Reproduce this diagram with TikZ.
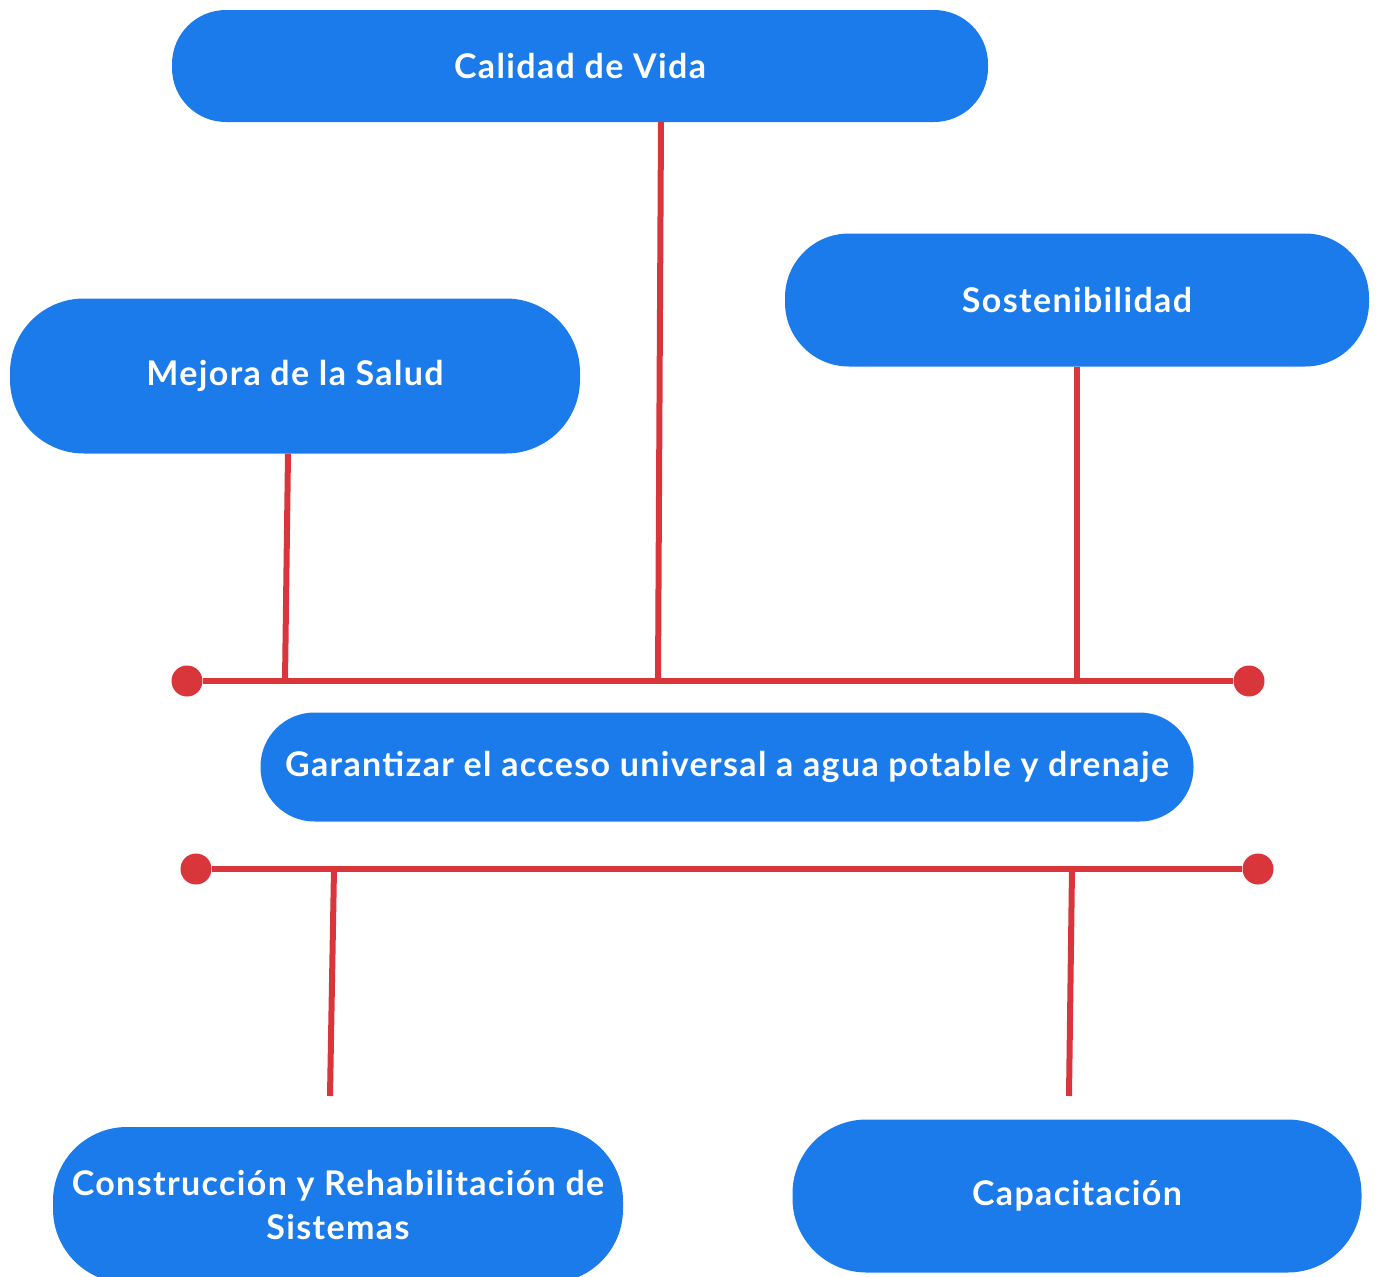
\documentclass[tikz,border=0pt]{standalone}
\usepackage{fontspec}
\setmainfont{Lato}[LetterSpace=4]
\definecolor{azul}{HTML}{1B7BEA}
\definecolor{rojo}{HTML}{D9363B}
\tikzset{
  caja/.style={rectangle, rounded corners=#1, fill=azul, text=white,
    font=\bfseries\fontsize{34}{44}\selectfont, align=center, inner sep=0pt},
  caja/.default=54pt,
  punto/.style={circle, fill=rojo, minimum size=31pt, inner sep=0pt},
  linea/.style={draw=rojo, line width=6pt}
}
\begin{document}
\begin{tikzpicture}[x=1pt, y=-1pt]
\clip (0,0) rectangle (1377,1277);
\useasboundingbox (0,0) rectangle (1377,1277);
\node[caja, minimum width=816pt, minimum height=112pt] (cal) at (580,66) {Calidad de Vida};
\node[caja=64pt, minimum width=584pt, minimum height=133pt] (sos) at (1077,300) {Sostenibilidad};
\node[caja=74pt, minimum width=570pt, minimum height=155pt] (mej) at (295,376) {Mejora de la Salud};
\node[caja, minimum width=933pt, minimum height=109pt] (gar) at (727,767) {Garantizar el acceso universal a agua potable y drenaje};
\node[caja=74pt, minimum width=570pt, minimum height=156pt] (con) at (338,1205) {Construcción y Rehabilitación de\\Sistemas};
\node[caja=74pt, minimum width=569pt, minimum height=153pt] (cap) at (1077,1196) {Capacitación};
% barra superior
\node[punto] (d1) at (187,681){};
\node[punto] (d2) at (1249,681){};
\draw[linea](d1) -- (d2);
\coordinate (j1) at (285,681);
\coordinate (j2) at (658,681);
\coordinate (j3) at (1077,681);
\draw[linea](mej.south -| 288,0) -- (j1);
\draw[linea](cal.south -| 661,0) -- (j2);
\draw[linea](sos.south) -- (j3);
% barra inferior
\node[punto] (d3) at (196,869){};
\node[punto] (d4) at (1258,869){};
\draw[linea](d3) -- (d4);
\coordinate (k1) at (334,869);
\coordinate (k2) at (1072,869);
\coordinate (c1) at (330,1096);
\coordinate (c2) at (1069,1096);
\draw[linea](k1) -- (c1);
\draw[linea](k2) -- (c2);
\end{tikzpicture}
\end{document}
